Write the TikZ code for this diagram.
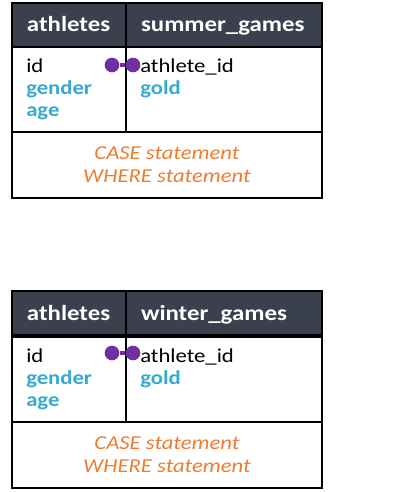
\documentclass[tikz,border=0pt]{standalone}
\usepackage{fontspec}
\setmainfont{Carlito}[FakeStretch=1.15]
\usetikzlibrary{positioning}

\definecolor{headgray}{HTML}{3B404F}
\definecolor{keyteal}{HTML}{36AACF}
\definecolor{noteorange}{HTML}{ED7D31}
\definecolor{joinpurple}{HTML}{7030A0}

\tikzset{
    cell/.style={rectangle, draw=black, line width=1.5pt, anchor=north west, inner sep=0pt},
    headcell/.style={cell, fill=headgray, text=white, font=\bfseries\fontsize{16.2}{19}\selectfont,
        minimum height=33pt, text width=#1, align=left, text height=11.5pt, text depth=1pt},
    bodycell/.style={cell, fill=white, minimum height=63.75pt, minimum width=#1},
    footcell/.style={cell, fill=white, minimum height=49.5pt, minimum width=232.5pt,
        text=noteorange, font=\itshape\fontsize{14.8}{17.25}\selectfont, align=center},
    fields/.style={anchor=north west, inner sep=0pt, align=left, font=\fontsize{14.8}{16.5}\selectfont},
    joindot/.style={circle, fill=joinpurple, inner sep=0pt, minimum size=11pt},
    joinline/.style={draw=joinpurple, line width=3pt}
}

\begin{document}
\begin{tikzpicture}[x=0.75pt, y=-0.75pt]
    \useasboundingbox (0,0) rectangle (415,492);

    % Summer games join
    \node [headcell=85.5pt] (athhead1) at (11,2) {\hspace*{11.25pt}athletes};
    \node [headcell=147pt] (gamehead1) at (125,2) {\hspace*{11.25pt}summer\_games};
    \node [bodycell=85.5pt] (athbody1) at (11,46) {};
    \node [bodycell=147pt] (gamebody1) at (125,46) {};
    \node [footcell] (note1) at (11,131) {CASE statement\\WHERE statement};
    \node [fields] (athfields1) at ([shift={(15,13)}]athbody1.north west)
        {id\\{\color{keyteal}\bfseries gender}\\{\color{keyteal}\bfseries age}};
    \node [fields] (gamefields1) at ([shift={(15,13)}]gamebody1.north west)
        {athlete\_id\\{\color{keyteal}\bfseries gold}};
    \node [joindot] (dotath1) at (112,65) {};
    \node [joindot] (dotgame1) at (133,65) {};
    \path [joinline] (dotath1) -- (dotgame1);

    % Winter games join
    \node [headcell=85.5pt] (athhead2) at (11,290) {\hspace*{11.25pt}athletes};
    \node [headcell=147pt] (gamehead2) at (125,290) {\hspace*{11.25pt}winter\_games};
    \node [bodycell=85.5pt] (athbody2) at (11,336) {};
    \node [bodycell=147pt] (gamebody2) at (125,336) {};
    \node [footcell] (note2) at (11,421) {CASE statement\\WHERE statement};
    \node [fields] (athfields2) at ([shift={(15,13)}]athbody2.north west)
        {id\\{\color{keyteal}\bfseries gender}\\{\color{keyteal}\bfseries age}};
    \node [fields] (gamefields2) at ([shift={(15,13)}]gamebody2.north west)
        {athlete\_id\\{\color{keyteal}\bfseries gold}};
    \node [joindot] (dotath2) at (112,353) {};
    \node [joindot] (dotgame2) at (133,353) {};
    \path [joinline] (dotath2) -- (dotgame2);

\end{tikzpicture}
\end{document}
